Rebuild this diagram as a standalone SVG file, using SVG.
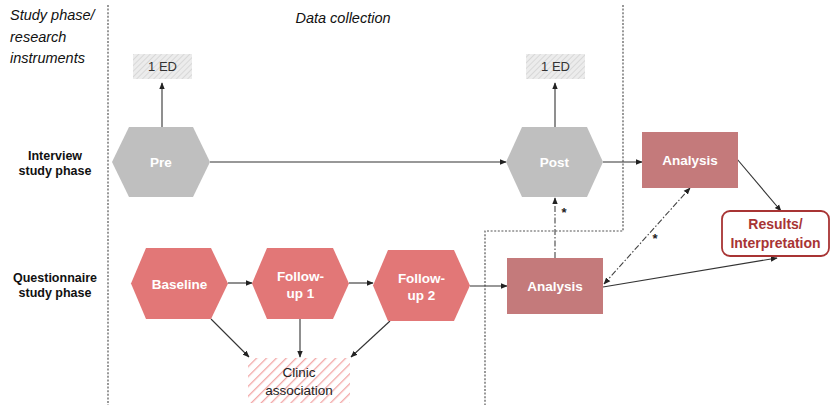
<svg xmlns="http://www.w3.org/2000/svg" width="831" height="405" viewBox="0 0 831 405">
<defs>
<pattern id="hatchGray" patternUnits="userSpaceOnUse" width="4" height="4" patternTransform="rotate(45)">
<rect width="4" height="4" fill="#ececec"/>
<line x1="0" y1="0" x2="0" y2="4" stroke="#d2d2d2" stroke-width="1.5"/>
</pattern>
<pattern id="hatchRed" patternUnits="userSpaceOnUse" width="7" height="7" patternTransform="rotate(45)">
<rect width="7" height="7" fill="#fff"/>
<line x1="0" y1="0" x2="0" y2="7" stroke="#f2a6a6" stroke-width="2.6"/>
</pattern>
<marker id="arr" viewBox="0 0 10 10" refX="9" refY="5" markerWidth="7" markerHeight="7" orient="auto-start-reverse" markerUnits="userSpaceOnUse">
<path d="M0,1 L10,5 L0,9 z" fill="#222"/>
</marker>
</defs>
<style>
.lbl{font-family:"Liberation Sans",Arial,sans-serif;font-size:14.5px;fill:#111;font-style:italic}
.row{font-family:"Liberation Sans",Arial,sans-serif;font-size:12.5px;font-weight:bold;fill:#111;text-anchor:middle}
.hexg{fill:#bfbfbf}
.hexr{fill:#e27777}
.box{fill:#c47a7b}
.wt{font-family:"Liberation Sans",Arial,sans-serif;font-size:13.5px;font-weight:bold;fill:#fff;text-anchor:middle}
.ed{font-family:"Liberation Sans",Arial,sans-serif;font-size:13px;fill:#333;text-anchor:middle}
.dk{font-family:"Liberation Sans",Arial,sans-serif;font-size:13.5px;fill:#222;text-anchor:middle}
.res{font-family:"Liberation Sans",Arial,sans-serif;font-size:14px;font-weight:bold;fill:#a83434;text-anchor:middle}
.dot{fill:none;stroke:#555;stroke-width:1.2;stroke-dasharray:2,1.6}
.ln{fill:none;stroke:#333;stroke-width:1.1}
.dd{fill:none;stroke:#444;stroke-width:1.1;stroke-dasharray:6,2,1.5,2}
.ast{font-family:"Liberation Sans",Arial,sans-serif;font-size:13px;font-weight:bold;fill:#222;text-anchor:middle}
</style>
<g id="labels">
<text class="lbl" x="10" y="20">Study phase/</text>
<text class="lbl" x="10" y="42">research</text>
<text class="lbl" x="10" y="63">instruments</text>
<text class="lbl" x="343" y="23" text-anchor="middle">Data collection</text>
<text class="row" x="55" y="160">Interview</text>
<text class="row" x="55" y="175">study phase</text>
<text class="row" x="55" y="282">Questionnaire</text>
<text class="row" x="55" y="297">study phase</text>
</g>
<g id="dividers">
<line class="dot" x1="108" y1="5" x2="108" y2="405"/>
<polyline class="dot" points="623,5 623,231 485,231 485,405"/>
</g>
<g id="connectors">
<line class="ln" x1="162" y1="127" x2="162" y2="83" marker-end="url(#arr)"/>
<line class="ln" x1="555" y1="127" x2="555" y2="83" marker-end="url(#arr)"/>
<line class="ln" x1="210" y1="162" x2="506" y2="162" marker-end="url(#arr)"/>
<line class="ln" x1="603" y1="162" x2="642" y2="162" marker-end="url(#arr)"/>
<line class="ln" x1="737" y1="159" x2="781" y2="211" marker-end="url(#arr)"/>
<line class="ln" x1="603" y1="287" x2="777" y2="258" marker-end="url(#arr)"/>
<line class="dd" x1="604" y1="284" x2="690" y2="188" marker-start="url(#arr)" marker-end="url(#arr)"/>
<line class="dd" x1="555" y1="258" x2="555" y2="198" marker-end="url(#arr)"/>
<line class="ln" x1="228" y1="283" x2="252" y2="283" marker-end="url(#arr)"/>
<line class="ln" x1="349" y1="283" x2="373" y2="283" marker-end="url(#arr)"/>
<line class="ln" x1="470" y1="286" x2="507" y2="286" marker-end="url(#arr)"/>
<line class="ln" x1="211" y1="319" x2="249" y2="357" marker-end="url(#arr)"/>
<line class="ln" x1="300" y1="319" x2="300" y2="357" marker-end="url(#arr)"/>
<line class="ln" x1="390" y1="321" x2="351" y2="357" marker-end="url(#arr)"/>
<text class="ast" x="564" y="217">*</text>
<text class="ast" x="655" y="243">*</text>
</g>
<g id="ed1">
<rect x="133" y="54" width="59" height="25" fill="url(#hatchGray)"/>
<text class="ed" x="162.5" y="71">1 ED</text>
</g>
<g id="ed2">
<rect x="526" y="54" width="59" height="25" fill="url(#hatchGray)"/>
<text class="ed" x="555.5" y="71">1 ED</text>
</g>
<g id="pre">
<polygon class="hexg" points="112,162 129,127 193,127 210,162 193,197 129,197"/>
<text class="wt" x="161" y="167">Pre</text>
</g>
<g id="post">
<polygon class="hexg" points="506,162 522,127 587,127 603,162 587,197 522,197"/>
<text class="wt" x="554.5" y="167">Post</text>
</g>
<g id="analysis-interview">
<rect class="box" x="642" y="132" width="96" height="56"/>
<text class="wt" x="690" y="165">Analysis</text>
</g>
<g id="results">
<rect x="722" y="211" width="107" height="45" rx="8" fill="#fff" stroke="#a83434" stroke-width="1.8"/>
<text class="res" x="775.5" y="229">Results/</text>
<text class="res" x="775.5" y="248">Interpretation</text>
</g>
<g id="baseline">
<polygon class="hexr" points="131,283.5 146,248 211,248 228,283.5 211,319 146,319"/>
<text class="wt" x="179.5" y="288.5">Baseline</text>
</g>
<g id="followup1">
<polygon class="hexr" points="252,283.5 267,248 333,248 349,283.5 333,319 267,319"/>
<text class="wt" x="300.5" y="281">Follow-</text>
<text class="wt" x="300.5" y="298">up 1</text>
</g>
<g id="followup2">
<polygon class="hexr" points="373,285.5 388,250 454,250 470,285.5 454,321 388,321"/>
<text class="wt" x="421.5" y="283">Follow-</text>
<text class="wt" x="421.5" y="300">up 2</text>
</g>
<g id="analysis-questionnaire">
<rect class="box" x="507" y="258" width="96" height="56"/>
<text class="wt" x="555" y="291">Analysis</text>
</g>
<g id="clinic">
<rect x="248" y="358" width="102" height="45" fill="url(#hatchRed)"/>
<text class="dk" x="299" y="377">Clinic</text>
<text class="dk" x="299" y="395">association</text>
</g>
</svg>
